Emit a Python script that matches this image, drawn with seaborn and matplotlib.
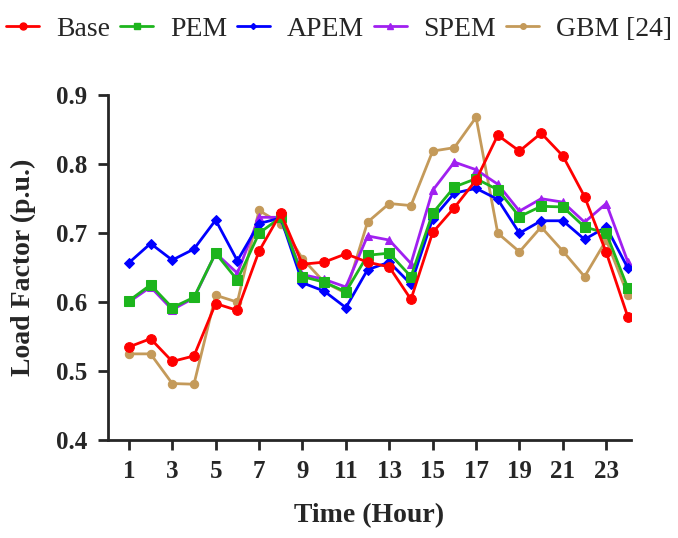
import pandas as pd
import seaborn as sns
import matplotlib.pyplot as plt
from matplotlib.lines import Line2D

# hourly load factor (p.u.)
hours = list(range(1, 25))
base = [0.535, 0.547, 0.514, 0.522, 0.598, 0.588, 0.674, 0.729, 0.655, 0.658, 0.670, 0.658,
        0.651, 0.604, 0.701, 0.737, 0.777, 0.842, 0.819, 0.845, 0.812, 0.753, 0.672, 0.578]
pem = [0.602, 0.625, 0.592, 0.607, 0.671, 0.632, 0.700, 0.723, 0.637, 0.629, 0.615, 0.668,
       0.671, 0.637, 0.729, 0.767, 0.779, 0.763, 0.724, 0.739, 0.738, 0.709, 0.700, 0.620]
apem = [0.657, 0.685, 0.661, 0.677, 0.719, 0.660, 0.714, 0.722, 0.628, 0.616, 0.592, 0.647,
        0.658, 0.626, 0.721, 0.758, 0.765, 0.749, 0.700, 0.718, 0.718, 0.691, 0.709, 0.649]
spem = [0.600, 0.622, 0.589, 0.606, 0.671, 0.642, 0.723, 0.723, 0.640, 0.633, 0.622, 0.696,
        0.690, 0.656, 0.762, 0.803, 0.792, 0.771, 0.732, 0.750, 0.745, 0.716, 0.743, 0.658]
gbm = [0.525, 0.525, 0.482, 0.481, 0.610, 0.600, 0.733, 0.714, 0.663, 0.629, 0.613, 0.716,
       0.743, 0.740, 0.819, 0.824, 0.868, 0.700, 0.673, 0.709, 0.674, 0.637, 0.690, 0.610]

names = ["Base", "PEM", "APEM", "SPEM", "GBM [24]"]
colors = {"Base": "#ff0000", "PEM": "#1db51d", "APEM": "#0000ff",
          "SPEM": "#a020f0", "GBM [24]": "#c49a5a"}
markers = {"Base": "o", "PEM": "s", "APEM": "D", "SPEM": "^", "GBM [24]": "o"}
msizes = {"Base": 7, "PEM": 7, "APEM": 5, "SPEM": 6, "GBM [24]": 6}
series = {"Base": base, "PEM": pem, "APEM": apem, "SPEM": spem, "GBM [24]": gbm}

sns.set_style("ticks")
plt.rcParams['font.family'] = ['Liberation Serif', 'DejaVu Serif']

fig = plt.figure(figsize=(6.78, 5.38), dpi=100)
ax = fig.add_axes([0.159, 0.182, 0.772, 0.641])

# draw bottom layers first so Base sits on top
for name in ["GBM [24]", "SPEM", "APEM", "PEM", "Base"]:
    df = pd.DataFrame({"hour": hours, "lf": series[name]})
    sns.lineplot(data=df, x="hour", y="lf", ax=ax, color=colors[name],
                 marker=markers[name], markersize=msizes[name],
                 markeredgecolor=colors[name], linewidth=2.0)

ax.set_xlim(0.03, 24.15)
ax.set_ylim(0.4, 0.9)
ax.set_xticks(range(1, 24, 2))
ax.set_yticks([0.4, 0.5, 0.6, 0.7, 0.8, 0.9])
ax.set_yticklabels(["0.4", "0.5", "0.6", "0.7", "0.8", "0.9"])
ax.tick_params(axis="both", labelsize=18, width=2, length=7, direction="out")
ax.tick_params(axis="x", pad=7)
ax.tick_params(axis="y", pad=8)
for lab in ax.get_xticklabels() + ax.get_yticklabels():
    lab.set_fontweight("bold")
ax.spines["top"].set_visible(False)
ax.spines["right"].set_visible(False)
ax.spines["left"].set_linewidth(2)
ax.spines["bottom"].set_linewidth(2)

ax.set_xlabel("Time (Hour)", fontsize=20, fontweight="bold", labelpad=15)
ax.set_ylabel("Load Factor (p.u.)", fontsize=20, fontweight="bold", labelpad=14)

handles = [Line2D([0], [0], color=colors[n], marker=markers[n], markersize=msizes[n] - 2,
                  linewidth=2.0) for n in names]
fig.legend(handles, names, loc="upper center", bbox_to_anchor=(0.5, 0.995), ncol=5,
           frameon=False, fontsize=20, handlelength=1.2, handletextpad=0.6,
           columnspacing=0.35, borderaxespad=0.1)

fig.savefig("out.png", dpi=100)
